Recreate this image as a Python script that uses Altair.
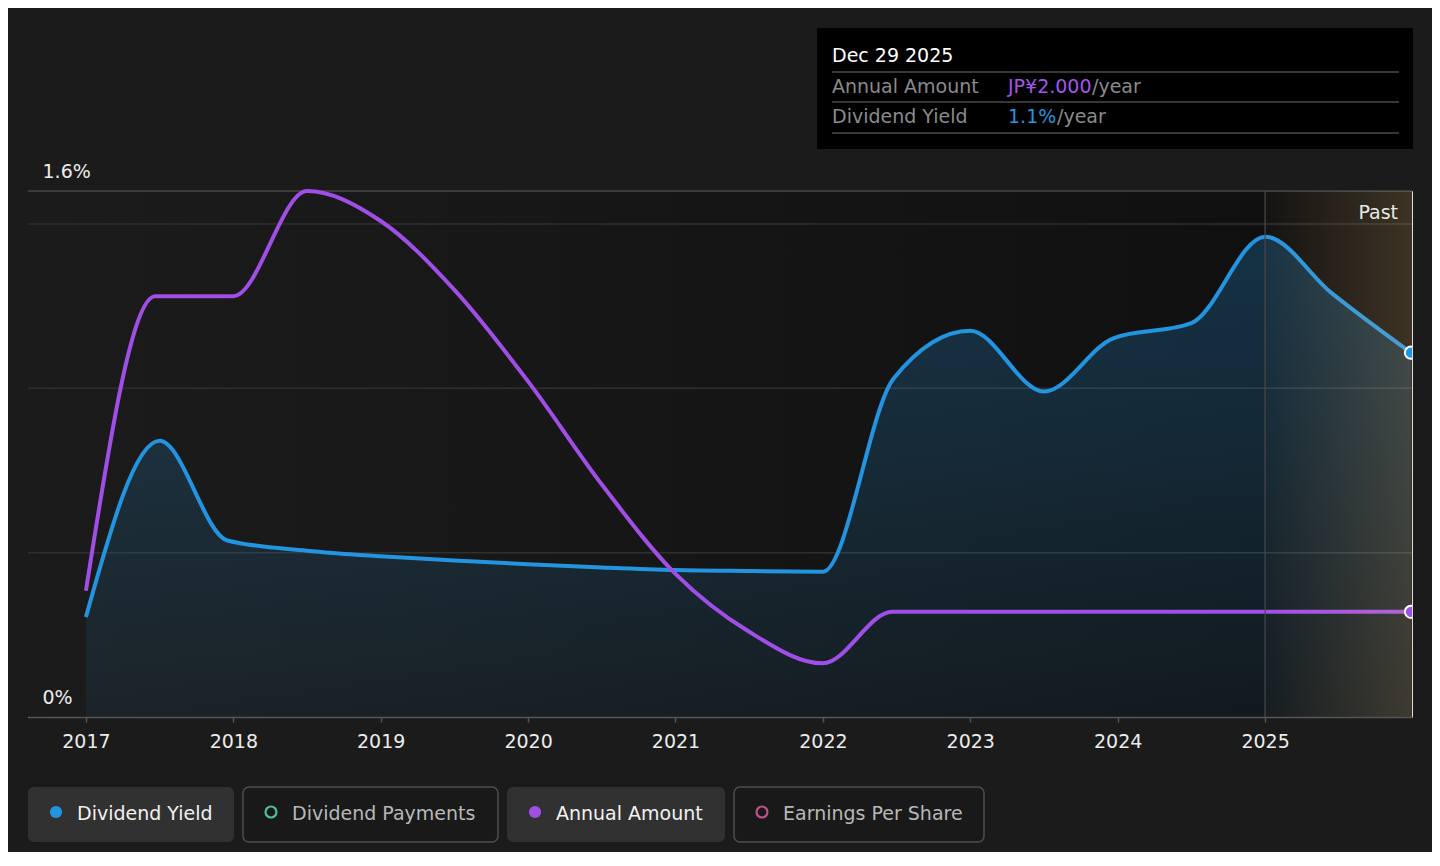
import altair as alt
import pandas as pd

# ---------------- data ----------------
yield_year = [2017.0, 2017.5, 2017.96, 2018.5, 2019.0, 2019.5, 2020.0, 2020.5,
              2021.0, 2021.5, 2022.0, 2022.48, 2023.0, 2023.5, 2023.97, 2024.5,
              2025.0, 2025.45, 2025.99]
yield_pct = [0.304, 0.840, 0.537, 0.506, 0.489, 0.476, 0.465, 0.455,
             0.447, 0.444, 0.442, 1.030, 1.175, 0.990, 1.152, 1.198,
             1.461, 1.290, 1.108]

amount_year = [2017.0, 2017.47, 2018.0, 2018.5, 2019.0, 2019.5, 2020.0, 2020.5,
               2021.0, 2021.5, 2022.0, 2022.47, 2025.99]
amount_jpy = [2.40, 8.0, 8.0, 10.0, 9.43, 8.12, 6.38, 4.42,
              2.72, 1.62, 1.02, 2.0, 2.0]

grid_pct = [0.5, 1.0, 1.5]
top_pct = [1.6]
year_ticks = list(range(2017, 2026))
past_start = [2025.0]
last_year = [2025.99]
last_yield = [1.108]
last_amount = [2.0]

legend_labels = ["Dividend Yield", "Dividend Payments", "Annual Amount", "Earnings Per Share"]
tooltip_date = "Dec 29 2025"
tooltip_rows = ["Annual Amount", "Dividend Yield"]
tooltip_values = ["JP¥2.000", "1.1%"]

# ---------------- styling / layout ----------------
X0, X1 = 2016.607, 2025.997
W, H = 1384, 526
BLUE = "#2394df"
PURPLE = "#9f4ee6"
TEAL = "#4dbf9f"
PINK = "#c24f8e"
FONT = "DejaVu Sans"
FS = 19
one = pd.DataFrame({"a": [0]})

df_yield = pd.DataFrame({"year": yield_year, "pct": yield_pct})
df_amt = pd.DataFrame({"year": amount_year, "jpy": amount_jpy})

xscale = alt.Scale(domain=[X0, X1], nice=False, zero=False)
xaxis = alt.Axis(values=year_ticks, format="d", title=None, grid=False,
                 labelFontSize=FS, labelColor="#ececec", labelFont=FONT,
                 labelPadding=10, tickColor="#555555", tickSize=5, tickWidth=1.5,
                 domainColor="#555555", domainWidth=1.5, labelFlush=False, zindex=1)
ys_pct = alt.Scale(domain=[0, 1.6], nice=False, zero=True)
ys_jpy = alt.Scale(domain=[0, 10], nice=False, zero=True)


def X(f):
    return alt.X(f, scale=xscale, axis=xaxis)


def Yp(f, axis=None):
    return alt.Y(f, scale=ys_pct, axis=axis)


# background gradient of the plot area
bg_grad = alt.Gradient(gradient="linear", x1=0, x2=1, y1=0, y2=0, stops=[
    alt.GradientStop(offset=0, color="#1b1b1b"),
    alt.GradientStop(offset=0.3, color="#181818"),
    alt.GradientStop(offset=0.88, color="#101010"),
    alt.GradientStop(offset=1, color="#101010")])
bg = alt.Chart(pd.DataFrame({"s": [X0], "e": [X1], "lo": [0], "hi": [1.6]})).mark_rect(
    color=bg_grad).encode(x=X("s:Q"), x2="e:Q", y=Yp("lo:Q"), y2="hi:Q")

yaxis = alt.Axis(values=[0, 1.6], title=None, grid=False, domain=False, ticks=False,
                 labelExpr="datum.value == 0 ? '0%' : format(datum.value, '.1f') + '%'",
                 labelAlign="left", labelBaseline="alphabetic", labelPadding=-14,
                 labelOffset=-14, labelFontSize=FS, labelColor="#ececec", labelFont=FONT,
                 labelFlush=False, zindex=1)
grid = alt.Chart(pd.DataFrame({"g": grid_pct})).mark_rule(
    color="#2f2f2f", strokeWidth=1.5).encode(y=Yp("g:Q", yaxis))
top_line = alt.Chart(pd.DataFrame({"g": top_pct})).mark_rule(
    color="#474747", strokeWidth=1.5).encode(y=Yp("g:Q"))

area_grad = alt.Gradient(gradient="linear", x1=0, x2=0, y1=0, y2=1, stops=[
    alt.GradientStop(offset=0, color="rgba(35,148,223,0.26)"),
    alt.GradientStop(offset=1, color="rgba(35,148,223,0.07)")])
area = alt.Chart(df_yield).mark_area(interpolate="monotone", color=area_grad).encode(
    x=X("year:Q"), y=Yp("pct:Q"))
blue_line = alt.Chart(df_yield).mark_line(interpolate="monotone", color=BLUE,
                                           strokeWidth=4).encode(x=X("year:Q"), y=Yp("pct:Q"))
purple_line = alt.Chart(df_amt).mark_line(interpolate="monotone", color=PURPLE,
                                           strokeWidth=4).encode(
    x=X("year:Q"), y=alt.Y("jpy:Q", scale=ys_jpy, axis=None))

past_grad = alt.Gradient(gradient="linear", x1=0, x2=1, y1=0, y2=0, stops=[
    alt.GradientStop(offset=0, color="rgba(255,200,120,0.02)"),
    alt.GradientStop(offset=1, color="rgba(255,200,120,0.19)")])
past = alt.Chart(pd.DataFrame({"s": past_start, "e": [X1], "lo": [0], "hi": [1.6]})).mark_rect(
    color=past_grad).encode(x=X("s:Q"), x2="e:Q", y=Yp("lo:Q"), y2="hi:Q")
past_rule = alt.Chart(pd.DataFrame({"s": past_start})).mark_rule(
    color="#4a4a4a", strokeWidth=1.2).encode(x=X("s:Q"))
past_text = alt.Chart(one).mark_text(align="right", baseline="alphabetic", font=FONT,
                                     fontSize=FS, color="#e8e8e8").encode(
    x=alt.value(W - 14), y=alt.value(28), text=alt.value("Past"))

blue_dot = alt.Chart(pd.DataFrame({"year": last_year, "pct": last_yield})).mark_circle(
    size=150, color=BLUE, opacity=1, stroke="#ffffff", strokeWidth=2, clip=True).encode(
    x=X("year:Q"), y=Yp("pct:Q"))
purple_dot = alt.Chart(pd.DataFrame({"year": last_year, "jpy": last_amount})).mark_circle(
    size=150, color=PURPLE, opacity=1, stroke="#ffffff", strokeWidth=2, clip=True).encode(
    x=X("year:Q"), y=alt.Y("jpy:Q", scale=ys_jpy, axis=None))

layers = [bg, grid, top_line, area, blue_line, purple_line, past, past_rule, past_text,
          blue_dot, purple_dot]

# ---------------- tooltip box ----------------
def txt(s, x, y, color, size=FS, align="left"):
    return alt.Chart(one).mark_text(align=align, baseline="alphabetic", font=FONT,
                                    fontSize=size, color=color).encode(
        x=alt.value(x), y=alt.value(y), text=alt.value(s))


def hline(x0, x1, y, color="#4a4a4a", w=1.5):
    return alt.Chart(one).mark_rule(color=color, strokeWidth=w).encode(
        x=alt.value(x0), x2=alt.value(x1), y=alt.value(y))


layers.append(alt.Chart(one).mark_rect(color="#000000").encode(
    x=alt.value(789), x2=alt.value(1385), y=alt.value(-163), y2=alt.value(-42)))
layers.append(txt(tooltip_date, 804, -129, "#ffffff"))
for yy in (-119, -89, -58):
    layers.append(hline(804, 1371, yy))
GREY = "#8a8a8a"
layers.append(txt(tooltip_rows[0], 804, -98, GREY))
layers.append(txt(tooltip_values[0], 980, -98, "#a455ea"))
layers.append(txt("/year", 1064, -98, GREY))
layers.append(txt(tooltip_rows[1], 804, -68, GREY))
layers.append(txt(tooltip_values[1], 980, -68, BLUE))
layers.append(txt("/year", 1029, -68, GREY))

# ---------------- legend buttons ----------------
btn_x = [(0, 206), (215, 470), (479, 697), (706, 956)]
btn_active = [True, False, True, False]
btn_color = [BLUE, TEAL, PURPLE, PINK]
for (bx0, bx1), lab, act, col in zip(btn_x, legend_labels, btn_active, btn_color):
    if act:
        rect = alt.Chart(one).mark_rect(cornerRadius=6, color="#313131")
    else:
        rect = alt.Chart(one).mark_rect(cornerRadius=6, fill="#191919", stroke="#4d4d4d",
                                        strokeWidth=1.5)
    layers.append(rect.encode(x=alt.value(bx0), x2=alt.value(bx1),
                              y=alt.value(596), y2=alt.value(651)))
    if act:
        dot = alt.Chart(one).mark_point(shape="circle", filled=True, size=150, color=col,
                                        opacity=1)
    else:
        dot = alt.Chart(one).mark_point(shape="circle", filled=False, size=120, color=col,
                                        strokeWidth=2.2, opacity=1)
    layers.append(dot.encode(x=alt.value(bx0 + 28), y=alt.value(621)))
    layers.append(txt(lab, bx0 + 49, 629, "#f2f2f2" if act else "#b8b8b8"))

chart = alt.layer(*layers).resolve_scale(y="independent").properties(
    width=W, height=H,
    padding={"left": 20, "top": 183, "right": 20, "bottom": 135},
    autosize=alt.AutoSizeParams(type="none"),
    background="#1b1b1b",
).configure_view(strokeWidth=0, fill=None).configure(font=FONT)

chart.save("out.html", embed_options={"renderer": "svg", "actions": False})
